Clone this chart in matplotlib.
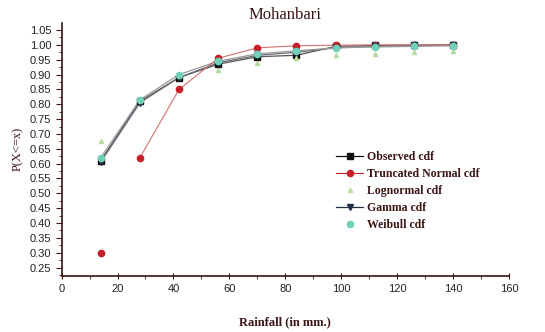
import numpy as np
import matplotlib.pyplot as plt
from matplotlib.ticker import MultipleLocator, FormatStrFormatter

# rainfall (mm) and cdf values
rain = [14, 28, 42, 56, 70, 84, 98, 112, 126, 140]
observed = [0.610, 0.810, 0.890, 0.935, 0.960, 0.965, 0.995, 0.998, 0.999, 1.000]
trunc_normal = [0.300, 0.620, 0.850, 0.955, 0.990, 0.997, 0.999, 1.000, 1.000, 1.000]
lognormal = [0.675, 0.815, 0.895, 0.915, 0.940, 0.955, 0.965, 0.970, 0.975, 0.978]
gamma = [0.605, 0.805, 0.890, 0.940, 0.965, 0.975, 0.990, 0.995, 0.998, 1.000]
weibull = [0.620, 0.815, 0.900, 0.945, 0.970, 0.980, 0.990, 0.993, 0.995, 0.997]

ink = "#3a1414"
serif = ["Liberation Serif", "DejaVu Serif"]
sans = ["Liberation Sans", "DejaVu Sans"]

fig = plt.figure(figsize=(5.45, 3.32), dpi=100)
ax = fig.add_axes([0.113, 0.169, 0.821, 0.762])

# connecting lines (grey-ish, thin)
ax.plot(rain, observed, color="#555555", lw=0.9, zorder=2)
ax.plot(rain, gamma, color="#6a6a7a", lw=0.9, zorder=2)
ax.plot(rain, weibull, color="#9a9a9a", lw=0.9, zorder=2)
ax.plot(rain[1:], trunc_normal[1:], color="#d07070", lw=0.8, zorder=2)

# markers
ax.plot(rain, observed, "s", color="#111111", ms=4.5, zorder=3)
ax.plot(rain, trunc_normal, "o", color="#c8202a", ms=4.5, zorder=3)
ax.plot(rain, lognormal, "^", color="#b8dca0", ms=3, zorder=3)
ax.plot(rain, gamma, "v", color="#22304a", ms=4.5, zorder=3)
ax.plot(rain, weibull, "o", color="#70d0b8", ms=4.5, zorder=4)

# legend proxies
h1, = ax.plot([], [], "-s", color="#111111", lw=0.9, ms=4.5)
h2, = ax.plot([], [], "-o", color="#c8202a", mfc="#c8202a", lw=0.8, ms=4.5)
h3, = ax.plot([], [], "^", color="#b8dca0", ms=3)
h4, = ax.plot([], [], "-v", color="#22304a", lw=0.9, ms=4.5)
h5, = ax.plot([], [], "o", color="#70d0b8", ms=4.5)
leg = ax.legend([h1, h2, h3, h4, h5],
                ["Observed cdf", "Truncated Normal cdf", "Lognormal cdf",
                 "Gamma cdf", "Weibull cdf"],
                loc="center left", bbox_to_anchor=(0.59, 0.334), frameon=False,
                handlelength=2.3, handletextpad=0.3, labelspacing=0.42,
                prop={"family": serif, "size": 8.5, "weight": "bold"})
for t in leg.get_texts():
    t.set_color(ink)

ax.set_xlim(0, 160)
ax.set_ylim(0.222, 1.074)
ax.xaxis.set_major_locator(MultipleLocator(20))
ax.xaxis.set_minor_locator(MultipleLocator(10))
ax.yaxis.set_major_locator(MultipleLocator(0.05))
ax.yaxis.set_minor_locator(MultipleLocator(0.025))
ax.yaxis.set_major_formatter(FormatStrFormatter("%.2f"))
ax.set_yticks(np.arange(0.25, 1.051, 0.05))

for side in ["top", "right"]:
    ax.spines[side].set_visible(False)
for side in ["left", "bottom"]:
    ax.spines[side].set_color(ink)
    ax.spines[side].set_linewidth(1.2)

ax.tick_params(axis="both", which="both", color=ink, labelcolor="#222222",
               labelsize=8)
ax.tick_params(axis="y", which="major", direction="out", length=4)
ax.tick_params(axis="y", which="minor", direction="out", length=2)
ax.tick_params(axis="x", which="major", direction="inout", length=5)
ax.tick_params(axis="x", which="minor", direction="out", length=2.5)
for lbl in ax.get_xticklabels() + ax.get_yticklabels():
    lbl.set_family(sans)

ax.set_title("Mohanbari", family=serif, fontsize=12, color=ink, pad=0)
ax.set_xlabel("Rainfall (in mm.)", family=serif, fontsize=9, fontweight="bold",
              color=ink, labelpad=16)
ax.set_ylabel("P(X<=x)", family=serif, fontsize=9, color=ink, labelpad=4)

fig.savefig("out.png", dpi=100)
